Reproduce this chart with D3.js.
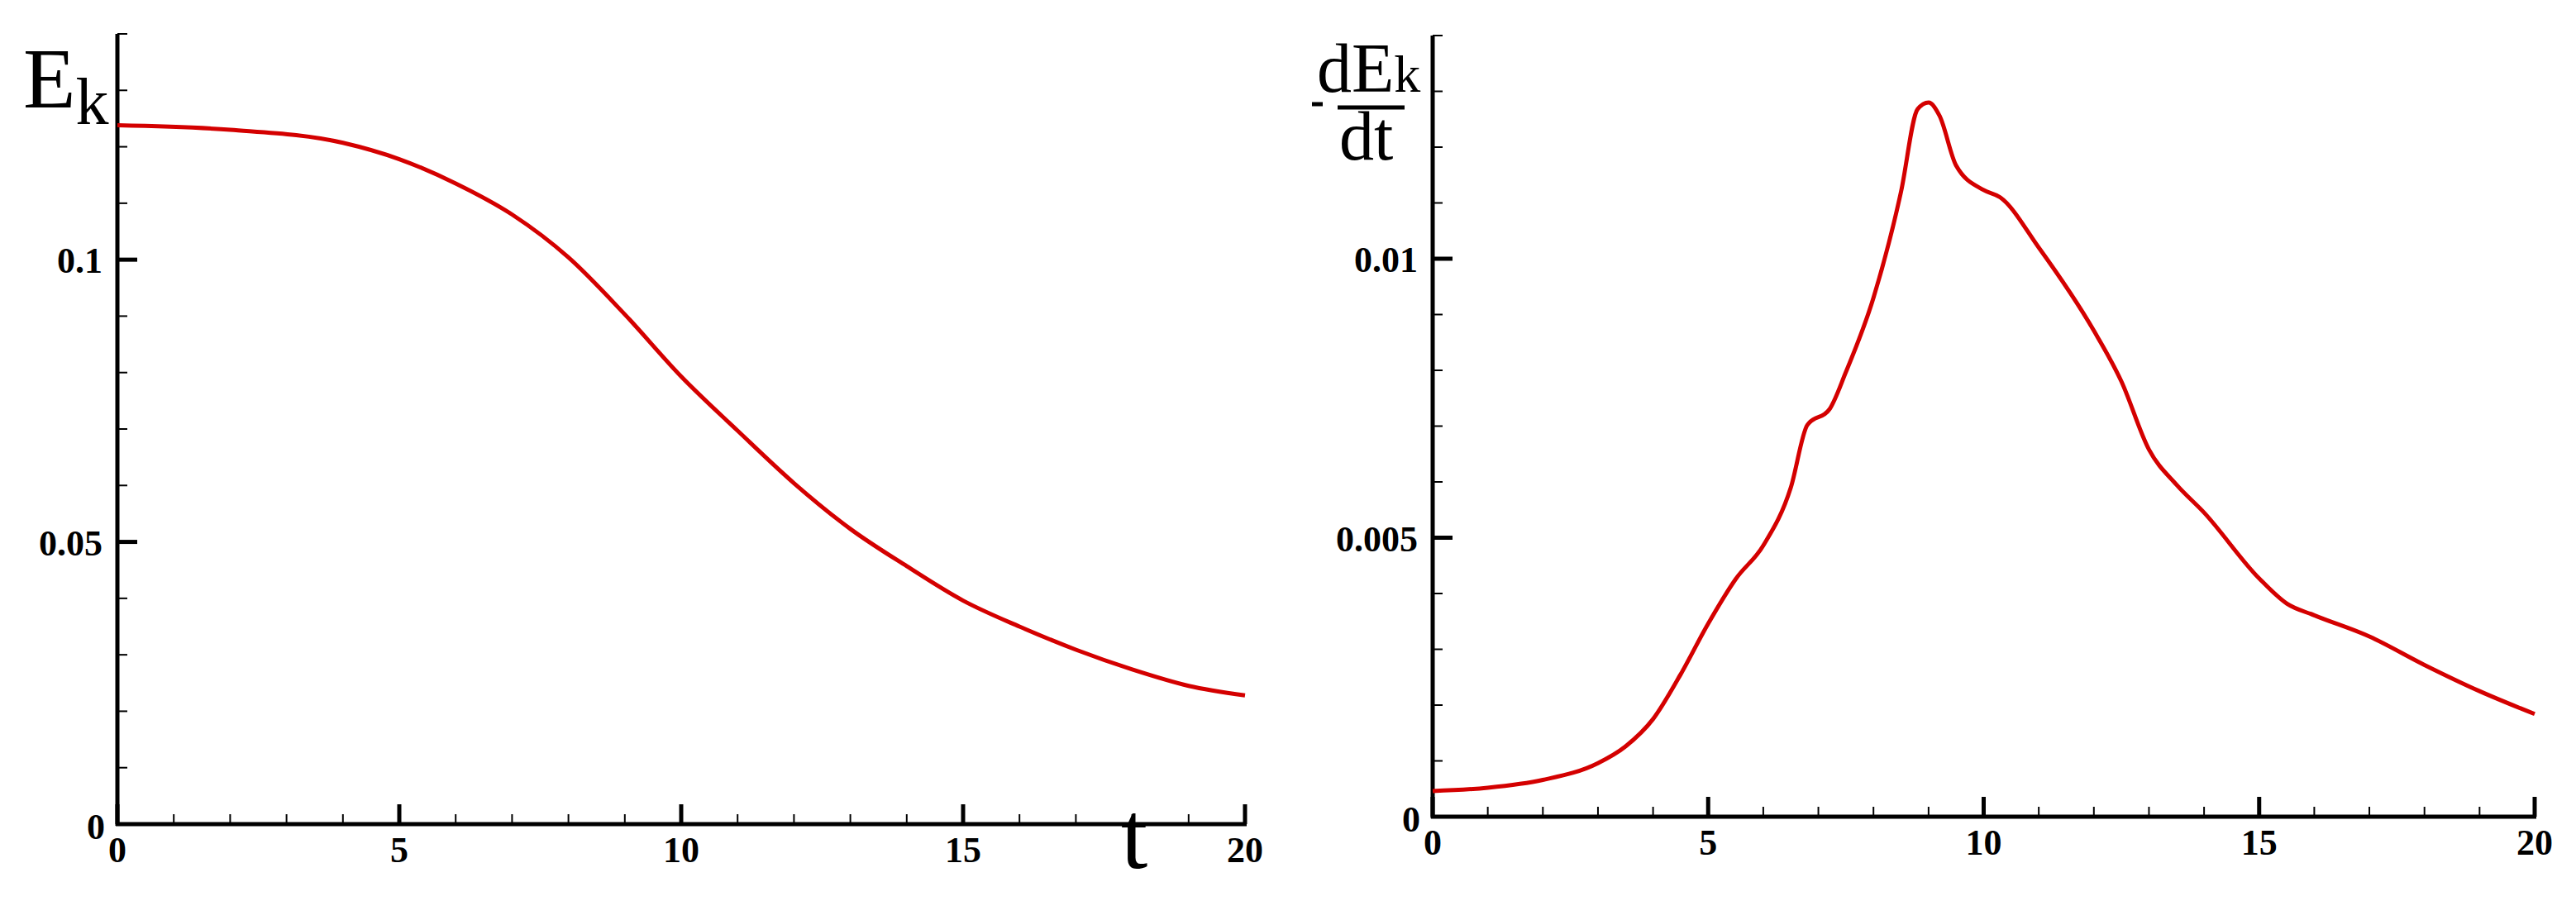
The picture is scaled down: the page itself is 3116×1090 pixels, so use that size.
<!DOCTYPE html>
<html><head><meta charset="utf-8">
<script src="https://cdn.jsdelivr.net/npm/d3@7"></script>
<style>body{margin:0;background:#fff}svg{display:block}</style>
</head><body>
<div id="chart"></div>
<script>
// kinetic energy
const tEk = [0,2,4,5,6,7,8,9,10,11,12,13,14,15,16,17,18,19,20]
const ek = [0.1238,0.1230,0.1207,0.1178,0.1135,0.108,0.1004,0.0903,0.0793,0.0697,0.0604,0.0523,0.0457,0.0396,0.035,0.0309,0.0274,0.0245,0.0228]
// dissipation rate
const tDiss = [0,1,2,3,3.5,4,4.5,5,5.5,6,6.5,6.8,7.2,7.5,8,8.5,8.8,9,9.2,9.5,10,10.3,11,12,12.5,13,13.5,14,15,15.5,16,17,18,19,20]
const diss = [0.00046,0.00052,0.00066,0.00096,0.00126,0.00175,0.00255,0.00346,0.00426,0.00486,0.0059,0.00702,0.0073,0.00797,0.0093,0.0112,0.01268,0.0128,0.01256,0.01167,0.01123,0.0111,0.0102,0.00871,0.0078,0.00658,0.00595,0.00545,0.00427,0.00382,0.00361,0.00323,0.00272,0.00225,0.00184]
const xTicks = [0,5,10,15,20]

const svg = d3.select("#chart").append("svg").attr("width", 3116).attr("height", 1090)
const font = "Liberation Serif"

function panel(x0, x1, y0, y1, yMax, yMajor, yMinorStep, ts, vs) {
	const x = d3.scaleLinear().domain([0, 20]).range([x0, x1])
	const y = d3.scaleLinear().domain([0, yMax]).range([y0, y1])
	const g = svg.append("g")
	const minorX = d3.range(0, 21).filter(d => d % 5 != 0)
	g.selectAll(".mx").data(minorX).enter().append("line")
		.attr("x1", d => x(d)).attr("x2", d => x(d))
		.attr("y1", y0).attr("y2", y0 - 12)
		.attr("stroke", "#000").attr("stroke-width", 2)
	g.selectAll(".Mx").data(xTicks).enter().append("line")
		.attr("x1", d => x(d)).attr("x2", d => x(d))
		.attr("y1", y0).attr("y2", y0 - 24)
		.attr("stroke", "#000").attr("stroke-width", 5)
	const nMinor = Math.round(yMax / yMinorStep)
	const minorY = d3.range(1, nMinor + 1).map(i => i * yMinorStep)
	g.selectAll(".my").data(minorY).enter().append("line")
		.attr("x1", x0).attr("x2", x0 + 12)
		.attr("y1", d => y(d)).attr("y2", d => y(d))
		.attr("stroke", "#000").attr("stroke-width", 2)
	g.selectAll(".My").data(yMajor).enter().append("line")
		.attr("x1", x0).attr("x2", x0 + 24)
		.attr("y1", d => y(d)).attr("y2", d => y(d))
		.attr("stroke", "#000").attr("stroke-width", 5)
	g.append("line").attr("x1", x0).attr("x2", x0).attr("y1", y0 + 2).attr("y2", y1)
		.attr("stroke", "#000").attr("stroke-width", 5)
	g.append("line").attr("x1", x0 - 2).attr("x2", x1 + 2).attr("y1", y0).attr("y2", y0)
		.attr("stroke", "#000").attr("stroke-width", 5)
	g.selectAll(".xl").data(xTicks).enter().append("text")
		.attr("x", d => x(d)).attr("y", y0 + 46)
		.attr("text-anchor", "middle")
		.attr("font-family", font).attr("font-weight", "bold").attr("font-size", 44)
		.text(d => d)
	g.selectAll(".yl").data(yMajor).enter().append("text")
		.attr("x", x0 - 18).attr("y", d => y(d) + 16)
		.attr("text-anchor", "end")
		.attr("font-family", font).attr("font-weight", "bold").attr("font-size", 44)
		.text(d => d)
	g.append("text").attr("x", x0 - 15).attr("y", y0 + 18)
		.attr("text-anchor", "end")
		.attr("font-family", font).attr("font-weight", "bold").attr("font-size", 44)
		.text("0")
	const line = d3.line().x((d, i) => x(ts[i])).y(d => y(d)).curve(d3.curveMonotoneX)
	g.append("path").datum(vs).attr("d", line)
		.attr("fill", "none").attr("stroke", "#d40000").attr("stroke-width", 5)
}

panel(142, 1506, 997, 41, 0.14, [0.05, 0.1], 0.01, tEk, ek)
panel(1733, 3066, 988, 43, 0.014, [0.005, 0.01], 0.001, tDiss, diss)

// axis titles
const ekT = svg.append("text").attr("x", 28).attr("y", 130)
	.attr("font-family", font).attr("font-size", 104)
ekT.append("tspan").text("E")
ekT.append("tspan").attr("font-size", 80).attr("dy", 20).text("k")
svg.append("text").attr("x", 1356).attr("y", 1050)
	.attr("font-family", font).attr("font-size", 116).text("t")

svg.append("line").attr("x1", 1587).attr("x2", 1600).attr("y1", 126).attr("y2", 126)
	.attr("stroke", "#000").attr("stroke-width", 5)
const dT = svg.append("text").attr("x", 1593).attr("y", 111)
	.attr("font-family", font).attr("font-size", 84)
dT.append("tspan").text("dE")
dT.append("tspan").attr("font-size", 64).text("k")
svg.append("line").attr("x1", 1618).attr("x2", 1699).attr("y1", 130).attr("y2", 130)
	.attr("stroke", "#000").attr("stroke-width", 5)
svg.append("text").attr("x", 1620).attr("y", 193)
	.attr("font-family", font).attr("font-size", 84).text("dt")
</script>
</body></html>
